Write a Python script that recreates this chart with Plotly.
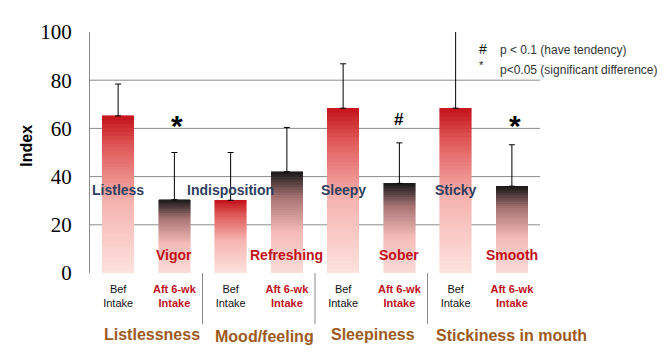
import plotly.graph_objects as go
from plotly.colors import sample_colorscale

# ---- data ----
bar_labels = ["Bef<br>Intake", "Aft 6-wk<br>Intake"] * 4
phase = ["bef", "aft"] * 4
values = [65.2, 30.4, 30.2, 42.0, 68.4, 37.2, 68.4, 36.0]
sd = [13.2, 19.6, 19.8, 18.4, 18.4, 16.8, 34.0, 17.2]
descriptors = ["Listless", "Vigor", "Indisposition", "Refreshing", "Sleepy", "Sober", "Sticky", "Smooth"]
significance = ["", "*", "", "", "", "#", "", "*"]
groups = ["Listlessness", "Mood/feeling", "Sleepiness", "Stickiness in mouth"]
y_ticks = [0, 20, 40, 60, 80, 100]
grid_vals = [20, 40, 60, 80]

# ---- styles ----
FONT = "Arial, Liberation Sans, sans-serif"
RED = "#c0101a"
NAVY = "#2f3e5e"
BROWN = "#9c5a1c"
scales = {
    "bef": [[0, "#fce2de"], [0.45, "#f6b4b0"], [0.8, "#e05a5a"], [1, "#c4121a"]],
    "aft": [[0, "#fadcd8"], [0.4, "#f5bcb8"], [0.75, "#a87474"], [1, "#181818"]],
}
N = 40

# page offset compensation (browser body margin)
OFF = 8
L, T, R, B = 90, 23, 540, 273   # plot area in page pixels
PW, PH = R - L, B - T


def px(xp):
    return (xp - L) / PW


def py(yp):
    return (B - yp) / PH


fig = go.Figure()
x = list(range(len(values)))
for j in range(N):
    frac = (j + 0.5) / N
    cols = [sample_colorscale(scales[p], [frac])[0] for p in phase]
    fig.add_trace(go.Bar(
        x=x, y=[v / N for v in values],
        marker=dict(color=cols, line=dict(color=cols, width=0.6)),
        showlegend=False, hoverinfo="skip",
    ))

fig.add_trace(go.Scatter(
    x=x, y=values, mode="markers", marker=dict(size=1, opacity=0),
    error_y=dict(type="data", array=sd, arrayminus=[0] * len(sd), symmetric=False,
                 color="black", thickness=1, width=3),
    showlegend=False, hoverinfo="skip",
))

tick_text = []
for lab, p in zip(bar_labels, phase):
    if p == "bef":
        tick_text.append(f'<span style="color:#111">{lab}</span>')
    else:
        tick_text.append(f'<span style="color:{RED}"><b>{lab}</b></span>')

shapes = []
for g in grid_vals:
    shapes.append(dict(type="line", xref="paper", yref="y", x0=0, x1=1, y0=g, y1=g,
                       line=dict(color="#8c8c8c", width=1), layer="below"))
for k in range(1, len(groups)):
    shapes.append(dict(type="line", xref="x", yref="paper", x0=2 * k - 0.5, x1=2 * k - 0.5,
                       y0=0, y1=py(326), line=dict(color="#8c8c8c", width=1)))

ann = []
for i, (d, p) in enumerate(zip(descriptors, phase)):
    if p == "bef":
        ann.append(dict(x=i, y=34.4, xref="x", yref="y", text=f"<b>{d}</b>", showarrow=False,
                        xanchor="center", yanchor="middle",
                        font=dict(family=FONT, size=14, color=NAVY)))
    else:
        ann.append(dict(x=i, y=7.6, xref="x", yref="y", text=f"<b>{d}</b>", showarrow=False,
                        xanchor="center", yanchor="middle",
                        font=dict(family=FONT, size=14, color=RED)))
for i, s in enumerate(significance):
    if s == "*":
        ann.append(dict(x=i, y=61, xref="x", yref="y", text="<b>*</b>", showarrow=False, xshift=3,
                        xanchor="center", yanchor="middle",
                        font=dict(family=FONT, size=30, color="black")))
    elif s == "#":
        ann.append(dict(x=i, y=63.5, xref="x", yref="y", text="<b>#</b>", showarrow=False,
                        xanchor="center", yanchor="middle",
                        font=dict(family=FONT, size=17, color="black")))

group_x = [152, 264, 373, 511]
group_y = [337, 339, 337, 338]
for gname, gx, gy in zip(groups, group_x, group_y):
    ann.append(dict(x=px(gx), y=py(gy), xref="paper", yref="paper",
                    text=f"<b>{gname}</b>", showarrow=False, xanchor="center", yanchor="middle",
                    font=dict(family=FONT, size=16, color=BROWN)))

ann.append(dict(x=px(27), y=py(141), xref="paper", yref="paper",
                text="<b>Index</b>", textangle=-90, showarrow=False, xanchor="center", yanchor="middle",
                font=dict(family=FONT, size=16, color="black")))

ann.append(dict(x=px(483), y=py(41), xref="paper", yref="paper", xanchor="center", yanchor="middle",
                text="#", showarrow=False, font=dict(family=FONT, size=14, color="#111")))
ann.append(dict(x=px(498), y=py(42), xref="paper", yref="paper",
                text="p < 0.1 (have tendency)", showarrow=False, xanchor="left", yanchor="middle",
                font=dict(family=FONT, size=12, color="#333")))
ann.append(dict(x=px(481), y=py(57), xref="paper", yref="paper", xanchor="center", yanchor="middle",
                text="*", showarrow=False, font=dict(family=FONT, size=11, color="#111")))
ann.append(dict(x=px(498), y=py(62), xref="paper", yref="paper",
                text="p<0.05 (significant difference)", showarrow=False, xanchor="left", yanchor="middle",
                font=dict(family=FONT, size=12, color="#333")))

fig.update_layout(
    width=671 - OFF, height=364 - OFF,
    margin=dict(l=L - OFF, r=671 - R, t=T - OFF, b=364 - B),
    paper_bgcolor="white", plot_bgcolor="white",
    barmode="stack", bargap=0.44,
    xaxis=dict(range=[-0.5, 7.5], tickvals=x, ticktext=tick_text, showgrid=False,
               showline=False, zeroline=False, ticks="", ticklabelstandoff=8,
               tickfont=dict(family=FONT, size=11, color="#111")),
    yaxis=dict(range=[0, 100], tickvals=y_ticks, showgrid=False, zeroline=False,
               showline=True, linecolor="#8c8c8c", linewidth=1, ticks="",
               ticklabelstandoff=13,
               tickfont=dict(family="Liberation Serif, Times New Roman, serif", size=21, color="black")),
    shapes=shapes, annotations=ann, showlegend=False,
)

fig.write_html("out.html")
